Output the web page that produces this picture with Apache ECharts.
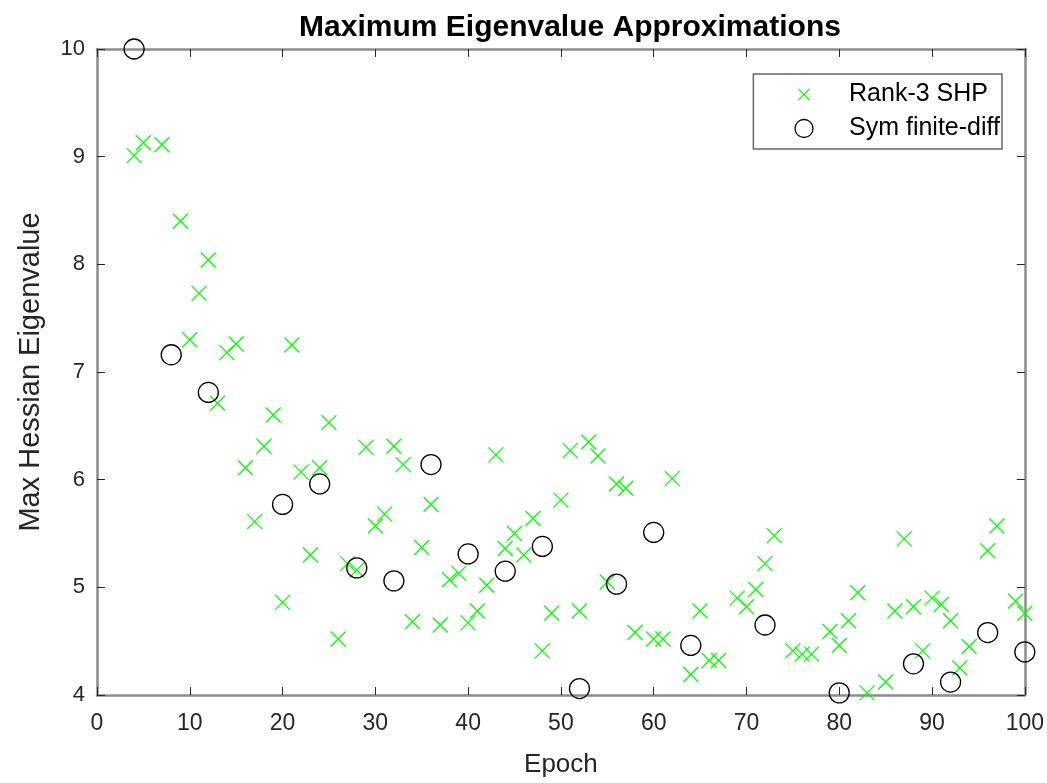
<!DOCTYPE html>
<html>
<head>
<meta charset="utf-8">
<script src="https://cdn.jsdelivr.net/npm/echarts@6/dist/echarts.min.js"></script>
<style>html,body{margin:0;padding:0;background:#fff;overflow:hidden;width:1047px;height:783px;}#c{width:1047px;height:783px;}</style>
</head>
<body>
<div id="c"></div>
<script>
// Rank-3 SHP (epoch, value)
const shpEpochs = [4,5,7,9,10,11,12,13,14,15,16,17,18,19,20,21,22,23,24,25,26,27,28,29,30,31,32,33,34,35,36,37,38,39,40,41,42,43,44,45,46,47,48,49,50,51,52,53,54,55,56,57,58,60,61,62,64,65,66,67,69,70,71,72,73,75,76,77,79,80,81,82,83,85,86,87,88,89,90,91,92,93,94,96,97,99,100];
const shpValues = [9.01,9.13,9.11,8.40,7.30,7.73,8.04,6.71,7.18,7.26,6.11,5.61,6.31,6.60,4.86,7.25,6.07,5.30,6.11,6.53,4.52,5.22,5.16,6.30,5.57,5.68,6.31,6.14,4.68,5.37,5.77,4.65,5.07,5.13,4.67,4.78,5.02,6.23,5.36,5.50,5.30,5.64,4.41,4.76,5.81,6.27,4.78,6.35,6.22,5.05,5.96,5.92,4.58,4.52,4.52,6.01,4.19,4.78,4.32,4.32,4.90,4.82,4.98,5.22,5.48,4.41,4.38,4.38,4.59,4.46,4.69,4.95,4.02,4.12,4.78,5.45,4.82,4.41,4.90,4.84,4.69,4.25,4.45,5.34,5.57,4.87,4.76];
// Sym finite-diff (epoch, value)
const fdEpochs = [4,8,12,20,24,28,32,36,40,44,48,52,56,60,64,72,80,88,92,96,100];
const fdValues = [10.0,7.16,6.81,5.77,5.96,5.18,5.06,6.14,5.31,5.15,5.38,4.06,5.03,5.51,4.46,4.65,4.02,4.29,4.12,4.58,4.40];
const xTicks = [0,10,20,30,40,50,60,70,80,90,100];
const yTicks = [4,5,6,7,8,9,10];

const shpData = shpEpochs.map((e,i)=>[e, shpValues[i]]);
const fdData = fdEpochs.map((e,i)=>[e, fdValues[i]]);
const crossPath = 'path://M0,0L10,10M10,0L0,10';
const crossLegend = 'path://M-3,-3M13,13M0,0L10,10M10,0L0,10';
const font = '"Liberation Sans", Arial, Helvetica, sans-serif';
const frameColor = '#8c8c8c';
const tickColor = '#262626';

const chart = echarts.init(document.getElementById('c'), null, {renderer:'canvas', width: 1047, height: 783});
chart.setOption({
  animation: false,
  backgroundColor: '#ffffff',
  title: {
    text: 'Maximum Eigenvalue Approximations',
    left: 565, top: 8, textAlign: 'center',
    textStyle: {fontFamily: font, fontSize: 30, fontWeight: 'bold', color: '#000'}
  },
  legend: {
    orient: 'vertical',
    right: 45, top: 74,
    backgroundColor: '#fff',
    borderColor: '#666',
    borderWidth: 1.5,
    padding: [8, 2, 8, 41],
    itemWidth: 18, itemHeight: 18, itemGap: 9,
    textStyle: {fontFamily: font, fontSize: 25, color: '#000', padding: [0, 0, 0, 31]},
    data: [
      {name: 'Rank-3 SHP', icon: crossLegend, itemStyle: {color: 'rgba(0,0,0,0)', borderColor: '#00ff00', borderWidth: 1.3}},
      {name: 'Sym finite-diff', icon: 'circle', itemStyle: {color: 'rgba(0,0,0,0)', borderColor: '#000', borderWidth: 1.3}}
    ]
  },
  grid: {left: 97, right: 19, top: 49, bottom: 82, containLabel: false},
  xAxis: [{
    type: 'value', min: 0, max: 100, interval: 10,
    name: 'Epoch', nameLocation: 'middle', nameGap: 57,
    nameTextStyle: {fontFamily: font, fontSize: 26, color: '#262626'},
    axisLine: {show: true, onZero: false, lineStyle: {color: frameColor, width: 2.5}},
    axisTick: {show: true, inside: true, length: 8, lineStyle: {color: tickColor, width: 1}},
    axisLabel: {fontFamily: font, fontSize: 23, color: '#262626', margin: 17,
      formatter: v => xTicks.includes(v) ? String(v) : ''},
    splitLine: {show: false}
  }, {
    type: 'value', min: 0, max: 100, interval: 10, position: 'top',
    axisLine: {show: true, onZero: false, lineStyle: {color: frameColor, width: 2.5}},
    axisTick: {show: true, inside: true, length: 8, lineStyle: {color: tickColor, width: 1}},
    axisLabel: {show: false}, splitLine: {show: false}
  }],
  yAxis: [{
    type: 'value', min: 4, max: 10, interval: 1,
    name: 'Max Hessian Eigenvalue', nameLocation: 'middle', nameGap: 52,
    nameTextStyle: {fontFamily: font, fontSize: 29, color: '#262626'},
    axisLine: {show: true, onZero: false, lineStyle: {color: frameColor, width: 2.5}},
    axisTick: {show: true, inside: true, length: 8, lineStyle: {color: tickColor, width: 1}},
    axisLabel: {fontFamily: font, fontSize: 22, color: '#262626', margin: 12,
      formatter: v => yTicks.includes(v) ? String(v) : ''},
    splitLine: {show: false}
  }, {
    type: 'value', min: 4, max: 10, interval: 1, position: 'right',
    axisLine: {show: true, onZero: false, lineStyle: {color: frameColor, width: 2.5}},
    axisTick: {show: true, inside: true, length: 8, lineStyle: {color: tickColor, width: 1}},
    axisLabel: {show: false}, splitLine: {show: false}
  }],
  series: [{
    name: 'Rank-3 SHP', type: 'scatter', xAxisIndex: 0, yAxisIndex: 0,
    symbol: crossPath, symbolSize: 15,
    itemStyle: {color: 'rgba(0,0,0,0)', borderColor: '#00ff00', borderWidth: 1.3, opacity: 1},
    data: shpData, z: 3
  }, {
    name: 'Sym finite-diff', type: 'scatter', xAxisIndex: 0, yAxisIndex: 0,
    symbol: 'circle', symbolSize: 20,
    itemStyle: {color: 'rgba(0,0,0,0)', borderColor: '#000', borderWidth: 1.3, opacity: 1},
    data: fdData, z: 4
  }]
});
</script>
</body>
</html>
